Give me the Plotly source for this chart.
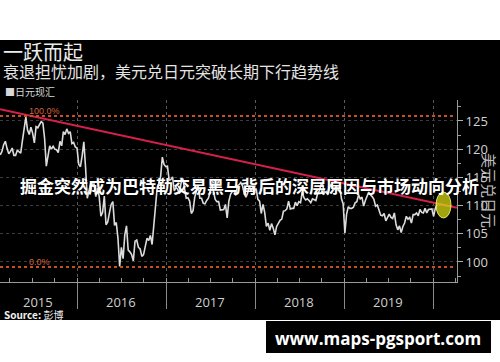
import pandas as pd
import plotly.graph_objects as go

W, H = 500, 362

# ---------------- data (weekly USD/JPY) ----------------
start_date = "2015-02-20"
y2015 = [119.0, 119.6,
         120.8, 121.4, 120.1, 119.2,
         119.6, 120.2, 118.9, 118.9,
         119.8, 119.5, 119.3, 121.5, 124.1,
         125.7, 123.4, 122.6, 123.9,
         122.8, 121.1, 124.0, 123.8, 124.4,
         124.9, 124.6, 121.9, 117.0,
         119.0, 120.6, 120.0, 120.5,
         120.0, 119.9, 119.4, 121.4, 120.6,
         123.1, 122.6, 123.6, 122.8,
         123.1, 121.0, 121.2, 120.4]
y2016 = [120.2, 117.3, 116.9, 118.8, 121.3,
         116.8, 111.3, 112.6, 113.9,
         113.8, 113.8, 111.6, 113.1,
         111.6, 108.1, 108.8, 111.7, 106.6,
         107.1, 108.7, 110.2, 110.7,
         106.5, 107.0, 104.2, 99.2,
         102.6, 100.6, 104.8, 106.4, 102.1,
         101.8, 101.3, 100.2, 103.7,
         103.9, 102.6, 102.3, 101.0, 101.3,
         102.9, 104.2, 103.8, 104.7,
         103.1, 106.7, 110.9, 113.2,
         113.9, 115.2, 118.6, 117.3, 116.9]
y2017 = [117.0, 114.5, 114.6, 115.1,
         112.6, 113.2, 112.9, 112.1,
         114.0, 114.8, 112.7, 111.3, 111.4,
         110.8, 108.6, 109.1, 111.5,
         112.7, 113.6, 111.3, 111.3,
         110.4, 110.3, 110.9, 111.3, 112.4,
         113.9, 112.5, 111.1, 110.7,
         110.7, 109.2, 109.2, 109.3,
         110.2, 107.8, 110.8, 112.0, 112.5,
         112.6, 111.8, 113.5, 113.7,
         114.1, 113.5, 112.1, 111.5,
         112.2, 113.5, 112.6, 113.3, 112.7]
y2018 = [113.0, 111.1, 110.8, 108.6,
         110.2, 108.8, 106.3, 106.9,
         105.6, 106.8, 106.0, 104.8, 106.3,
         106.9, 107.4, 107.6, 109.0,
         109.1, 109.4, 110.8, 109.4,
         109.5, 109.5, 110.6, 110.0, 110.7,
         110.5, 112.4, 111.4, 111.0,
         111.2, 110.9, 110.5, 111.2, 111.0,
         110.9, 112.1, 112.6, 113.7,
         113.7, 112.2, 112.5, 111.9,
         113.2, 113.8, 112.8, 112.9, 113.5,
         112.7, 113.4, 111.2, 110.3]
y2019 = [105.1, 108.5, 109.8, 109.5,
         109.5, 109.7, 110.5, 110.7,
         111.9, 111.2, 111.5, 109.9, 110.9,
         111.7, 112.4, 111.9, 111.6,
         111.1, 109.9, 110.1, 109.3, 108.3,
         108.2, 108.6, 107.3, 107.9,
         108.5, 107.9, 107.7, 108.7,
         106.6, 105.7, 106.4, 105.2, 106.3,
         106.9, 108.1, 107.6, 107.9,
         106.9, 108.4, 108.4, 108.7,
         108.2, 109.3, 108.8, 108.7, 109.5,
         108.7, 109.3, 109.4, 109.4]
y2020 = [108.1, 109.5, 110.2]

values = y2015 + y2016 + y2017 + y2018 + y2019 + y2020
dates = pd.date_range(start_date, periods=len(values), freq="W-FRI")

trend_dates = ["2015-02-19", "2020-04-08"]
trend_vals = [127.1, 109.6]

fib_levels = [125.9, 99.1]
fib_labels = ["100.0%", "0.0%"]

year_labels = ["2015", "2016", "2017", "2018", "2019"]
year_label_pos = ["2015-07-26", "2016-07-01", "2017-07-01", "2018-07-01", "2019-07-01"]
year_starts = ["2016-01-01", "2017-01-01", "2018-01-01", "2019-01-01", "2020-01-01"]

y_ticks = [100, 105, 110, 115, 120, 125]

x_range = ["2015-02-19", "2020-04-08"]
y_range = [96.45, 128.72]


def px(x):
    return x / W


def py(y):
    return 1 - y / H


CJK = "Noto Sans CJK SC"

fig = go.Figure()

fig.add_trace(go.Scatter(x=dates, y=values, mode="lines",
                         line=dict(color="#dcdcdc", width=1.6),
                         hoverinfo="skip", showlegend=False))
fig.add_trace(go.Scatter(x=trend_dates, y=trend_vals, mode="lines",
                         line=dict(color="#d4204a", width=2),
                         hoverinfo="skip", showlegend=False))

shapes = [
    dict(type="rect", xref="paper", yref="paper", x0=0, x1=1, y0=py(320), y1=py(40),
         fillcolor="black", line=dict(width=0), layer="below"),
    dict(type="rect", xref="paper", yref="paper", x0=px(266), x1=px(491), y0=py(353), y1=py(321),
         fillcolor="black", line=dict(width=0), layer="below"),
]
for lv in fib_levels:
    shapes.append(dict(type="line", xref="x domain", yref="y", x0=0, x1=0.995, y0=lv, y1=lv,
                       line=dict(color="#c8501e", width=2, dash="dot"), layer="above"))
shapes.append(dict(type="circle", xref="paper", yref="paper",
                   x0=px(436), x1=px(451), y0=py(218), y1=py(192),
                   fillcolor="rgba(225,225,20,0.72)", line=dict(color="rgba(255,255,120,0.8)", width=1),
                   layer="above"))

ann = []
for lab, lv in zip(fib_labels, fib_levels):
    ann.append(dict(x=px(27), y=lv, xref="paper", yref="y", text=lab, showarrow=False,
                    xanchor="left", yanchor="bottom", yshift=-2,
                    font=dict(family="Liberation Sans", size=9, color="#d0643a")))
for lab, pos in zip(year_labels, year_label_pos):
    ann.append(dict(x=pos, y=py(302), xref="x", yref="paper", text=lab, showarrow=False,
                    xanchor="center", yanchor="middle",
                    font=dict(family="Open Sans", size=13, color="#cfcfcf")))
ann += [
    dict(x=px(1), y=py(52), xref="paper", yref="paper", text="一跃而起", showarrow=False,
         xanchor="left", yanchor="middle", font=dict(family=CJK, size=20, color="#ececec")),
    dict(x=px(1), y=py(71), xref="paper", yref="paper", text="衰退担忧加剧，美元兑日元突破长期下行趋势线",
         showarrow=False, xanchor="left", yanchor="middle",
         font=dict(family=CJK, size=16, color="#e4e4e4")),
    dict(x=px(3), y=py(91), xref="paper", yref="paper", text="■日元现汇", showarrow=False,
         xanchor="left", yanchor="middle", font=dict(family=CJK, size=10, color="#d8d8d8")),
    dict(x=px(490), y=py(190), xref="paper", yref="paper", text="美元兑日元", showarrow=False,
         textangle=90, xanchor="center", yanchor="middle",
         font=dict(family=CJK, size=15, color="#bdbdbd")),
    dict(x=px(2), y=py(314), xref="paper", yref="paper", text="<b>Source:</b> 彭博", showarrow=False,
         xanchor="left", yanchor="middle", font=dict(family=CJK, size=10, color="#f0f0f0")),
    dict(x=px(378), y=py(338), xref="paper", yref="paper", text="<b>www.maps-pgsport.com</b>",
         showarrow=False, xanchor="center", yanchor="middle",
         font=dict(family="Open Sans", size=17, color="white")),
    dict(x=px(249), y=py(185), xref="paper", yref="paper",
         text="<b>掘金突然成为巴特勒交易黑马背后的深层原因与市场动向分析</b>",
         showarrow=False, xanchor="center", yanchor="middle",
         font=dict(family=CJK, size=17, color="white")),
]

fig.update_layout(
    width=W, height=H,
    margin=dict(l=0, r=0, t=0, b=0),
    paper_bgcolor="white",
    plot_bgcolor="rgba(0,0,0,0)",
    showlegend=False,
    shapes=shapes,
    annotations=ann,
    xaxis=dict(type="date", range=x_range, domain=[0, px(457)],
               tickmode="array", tickvals=year_starts, ticktext=[""] * len(year_starts),
               ticks="outside", ticklen=26, tickcolor="#8a8a8a", tickwidth=1,
               showgrid=True, gridcolor="#5a5a5a", griddash="dot", gridwidth=1,
               showline=True, linecolor="#9a9a9a", linewidth=1,
               minor=dict(ticks="inside", ticklen=4, dtick="M3", tick0="2015-01-01",
                          tickcolor="#9a9a9a", showgrid=False),
               zeroline=False, fixedrange=True),
    yaxis=dict(range=y_range, domain=[py(282), py(100)], side="right",
               tickmode="array", tickvals=y_ticks,
               ticks="outside", ticklen=5, tickcolor="#b0b0b0",
               tickfont=dict(family="Open Sans", size=13, color="#d2d2d2"),
               showgrid=True, gridcolor="#3c3c3c", griddash="dot", gridwidth=1,
               showline=True, linecolor="#9a9a9a", linewidth=1,
               minor=dict(ticks="outside", ticklen=3, dtick=2.5, tick0=100,
                          tickcolor="#9a9a9a", showgrid=False),
               zeroline=False, fixedrange=True),
)

fig.write_html("out.html")
